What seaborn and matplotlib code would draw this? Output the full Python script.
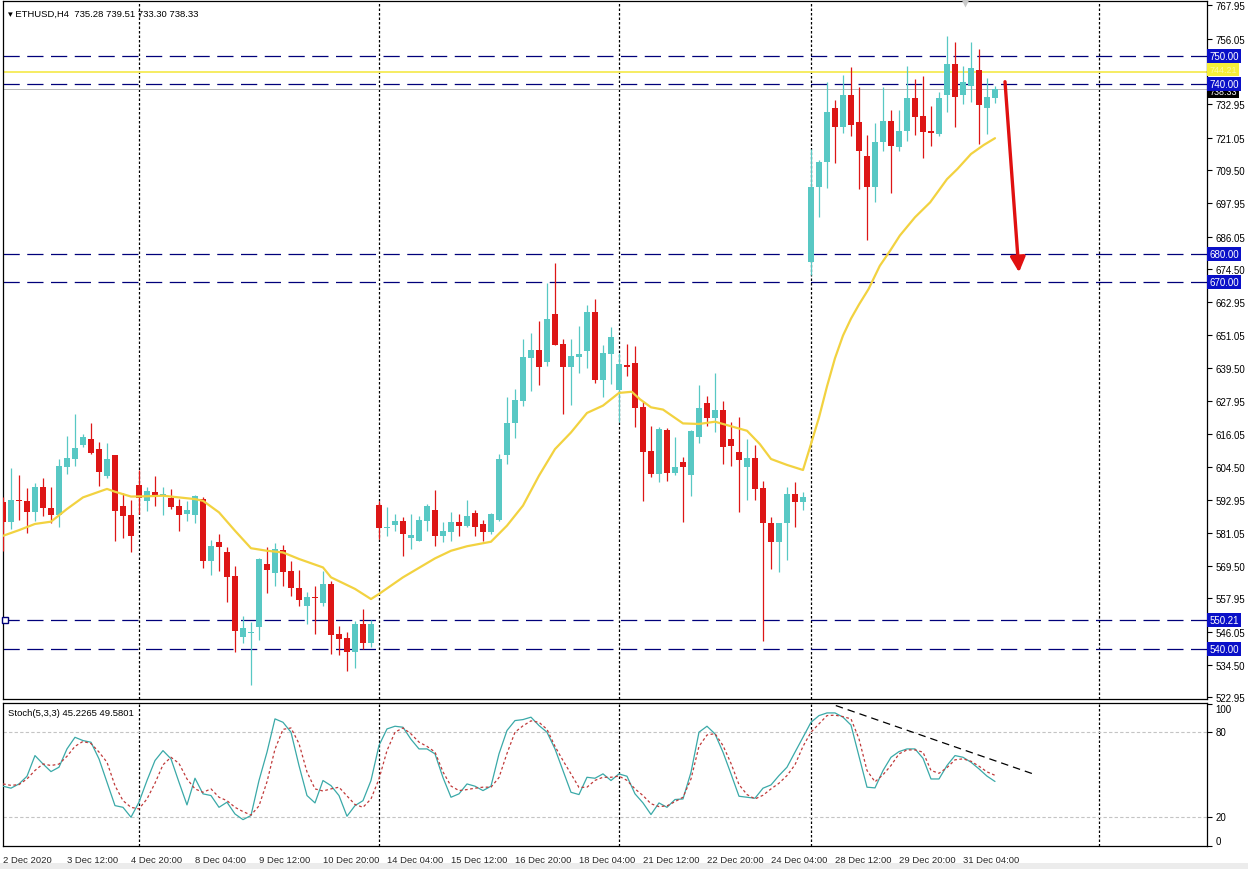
import numpy as np
import matplotlib
matplotlib.use("Agg")
import matplotlib.pyplot as plt
import matplotlib.transforms as mtransforms
from matplotlib.patches import Rectangle
import seaborn as sns

# ---------------- data ----------------
opens = [592.0, 585.1, 592.9, 592.4, 588.4, 597.3, 590.1, 587.5, 604.6, 607.3,
         612.3, 614.4, 610.8, 601.4, 608.7, 590.5, 587.5, 598.1, 592.3, 595.5,
         594.6, 593.5, 590.5, 587.9, 587.6, 593.1, 571.3, 577.8, 574.2, 565.7,
         544.4, 545.6, 547.9, 570.1, 566.8, 575.2, 567.5, 561.6, 555.1, 558.4,
         556.3, 563.0, 545.3, 543.8, 538.8, 548.9, 542.0, 591.0, 582.9, 583.9,
         585.2, 579.4, 578.4, 585.5, 589.2, 580.1, 581.6, 584.9, 583.7, 588.2,
         584.2, 581.6, 585.8, 608.8, 619.9, 627.9, 643.1, 646.0, 641.8, 658.6,
         648.0, 640.0, 643.5, 645.7, 659.5, 635.4, 644.5, 631.8, 640.6, 641.3,
         625.6, 610.0, 602.0, 617.7, 602.3, 606.1, 601.6, 615.2, 627.0, 621.8,
         624.7, 614.4, 609.7, 604.6, 607.6, 596.9, 584.6, 577.8, 584.5, 594.9,
         592.0, 677.2, 703.5, 712.4, 731.5, 724.7, 736.2, 726.5, 714.7, 703.5,
         719.4, 727.1, 717.7, 723.6, 735.0, 728.6, 723.4, 722.4, 736.3, 747.2,
         736.3, 739.3, 745.0, 731.6, 735.28]
highs = [593.7, 604.0, 601.6, 596.9, 598.8, 600.7, 597.3, 607.3, 615.6, 623.2,
         616.2, 620.0, 613.2, 613.0, 608.7, 595.1, 592.9, 603.4, 597.3, 601.2,
         597.3, 596.7, 593.1, 592.5, 594.6, 594.0, 578.7, 580.7, 576.0, 569.3,
         551.6, 549.5, 572.1, 576.0, 577.4, 576.8, 571.3, 568.0, 560.1, 562.4,
         567.8, 564.2, 548.0, 545.9, 550.1, 554.2, 550.4, 592.5, 590.2, 587.8,
         586.9, 587.8, 587.0, 591.4, 596.4, 584.9, 588.4, 587.8, 592.9, 589.2,
         585.7, 588.2, 609.1, 629.1, 632.1, 649.8, 651.9, 656.3, 669.6, 676.7,
         649.8, 649.8, 654.5, 661.8, 663.9, 647.7, 653.9, 645.0, 648.0, 647.4,
         628.0, 618.9, 618.5, 618.2, 615.0, 607.9, 617.7, 633.5, 629.5, 637.8,
         628.0, 620.3, 622.0, 614.4, 612.4, 599.6, 586.6, 584.6, 597.3, 599.0,
         595.5, 717.1, 713.2, 740.7, 734.4, 743.3, 746.2, 738.9, 722.0, 726.3,
         738.9, 730.9, 730.9, 746.3, 741.9, 742.8, 732.2, 737.1, 757.2, 754.8,
         746.3, 754.8, 752.5, 742.1, 739.51]
lows = [574.8, 582.5, 585.8, 581.0, 585.5, 587.0, 584.6, 583.1, 602.0, 604.9,
        611.4, 609.1, 597.6, 600.5, 578.4, 579.2, 574.5, 587.8, 589.0, 590.8,
        587.6, 589.6, 581.9, 585.5, 584.6, 568.6, 566.3, 567.8, 556.5, 538.8,
        542.0, 527.3, 543.2, 559.8, 562.2, 562.2, 558.9, 555.1, 548.9, 545.3,
        555.4, 538.2, 537.9, 532.3, 533.2, 540.0, 540.6, 579.0, 580.1, 581.9,
        573.1, 575.4, 578.4, 581.9, 576.4, 577.8, 578.4, 580.1, 583.1, 579.9,
        578.4, 580.7, 585.5, 605.5, 614.6, 625.9, 631.5, 633.5, 640.1, 647.8,
        623.2, 626.5, 637.7, 639.4, 634.1, 629.1, 633.9, 620.5, 636.8, 618.5,
        592.5, 600.8, 599.3, 599.6, 601.6, 585.1, 594.1, 612.9, 619.1, 616.7,
        605.5, 604.9, 588.6, 592.9, 592.9, 543.0, 568.4, 567.4, 571.6, 583.1,
        589.4, 672.5, 692.9, 703.1, 712.0, 722.6, 721.6, 702.9, 685.0, 698.4,
        716.5, 701.4, 716.5, 720.0, 722.0, 713.8, 718.0, 721.8, 730.3, 724.7,
        733.0, 733.8, 718.8, 722.4, 733.30]
closes = [584.9, 592.8, 592.3, 588.4, 597.3, 589.8, 587.5, 604.7, 607.5, 611.1,
          615.0, 609.3, 602.8, 607.3, 589.0, 587.2, 579.9, 593.5, 595.8, 594.3,
          594.8, 590.4, 587.6, 589.1, 594.3, 571.3, 576.6, 576.0, 565.4, 546.3,
          547.3, 545.9, 571.9, 568.1, 575.4, 567.4, 561.5, 557.5, 558.3, 558.1,
          562.9, 545.1, 543.6, 538.8, 548.9, 542.0, 548.9, 583.0, 583.3, 585.3,
          580.7, 580.4, 585.7, 590.8, 580.1, 581.8, 584.9, 583.7, 587.0, 583.1,
          581.6, 587.8, 607.3, 620.0, 628.2, 643.3, 646.0, 640.0, 656.9, 647.8,
          640.0, 643.6, 644.5, 659.5, 635.4, 644.7, 650.4, 640.9, 639.8, 625.4,
          609.9, 602.0, 617.9, 602.3, 604.4, 604.4, 617.3, 625.2, 621.8, 624.7,
          611.7, 612.0, 607.1, 607.6, 596.7, 584.5, 577.8, 584.6, 594.9, 592.0,
          593.7, 703.5, 712.5, 730.3, 724.7, 736.2, 725.7, 716.5, 703.5, 719.4,
          727.1, 718.0, 723.3, 735.0, 728.5, 723.2, 722.6, 735.0, 747.2, 735.6,
          740.7, 745.6, 732.6, 735.4, 738.33]

# moving average (bar index, price)
ma_index = [0, 2, 4, 6, 8, 10, 13, 14, 16, 18, 20, 24, 25, 27, 29, 31, 33, 35, 37, 40,
            41, 44, 46, 47, 50, 54, 56, 58, 61, 63, 65, 67, 69, 71, 73, 75, 77, 78.6,
            79.6, 81, 82.5, 85, 87, 89, 91, 93, 94.6, 96, 98, 100, 101, 102, 103, 104,
            105, 106, 107, 108.2, 109.6, 110.9, 112.1, 114, 115.9, 118, 119.3, 121,
            122.6, 124]
ma_value = [580.1, 582.1, 584.3, 585.1, 589.6, 593.7, 596.7, 595.7, 594.0, 594.1, 594.3,
            593.1, 592.5, 588.4, 581.9, 575.7, 574.8, 574.2, 571.9, 568.9, 565.4, 561.3,
            557.7, 559.5, 565.4, 572.1, 574.8, 576.4, 578.0, 583.7, 590.8, 601.4, 610.8,
            616.7, 623.6, 626.2, 630.7, 631.1, 628.5, 625.6, 624.8, 619.9, 619.7, 620.5,
            618.9, 617.3, 612.6, 607.3, 605.2, 603.4, 612.6, 622.0, 633.0, 643.0, 651.0,
            657.0, 662.0, 667.5, 675.7, 681.1, 686.4, 692.9, 698.2, 706.4, 710.0, 715.3,
            718.5, 720.9]

stoch_k = [41.9, 40.5, 43.5, 48.9, 63.5, 57.6, 52.2, 55.3, 68.2, 76.4,
           74.1, 72.9, 61.2, 44.7, 28.2, 27.0, 20.0, 30.6, 45.9, 60.0,
           67.0, 61.2, 44.7, 28.7, 47.5, 36.5, 35.3, 27.0, 30.6, 22.3,
           18.3, 21.2, 45.9, 65.9, 89.4, 87.0, 80.0, 56.5, 35.3, 30.1,
           45.9, 42.3, 35.3, 20.7, 28.2, 31.7, 45.9, 70.6, 82.3, 84.2,
           83.5, 75.0, 68.2, 68.2, 64.7, 48.0, 34.1, 36.5, 43.5, 41.9,
           38.8, 41.9, 64.7, 81.2, 88.2, 88.9, 90.6, 84.7, 80.0, 68.2,
           52.9, 37.6, 36.0, 48.2, 47.5, 50.6, 45.9, 50.6, 48.9, 36.5,
           30.1, 21.9, 30.1, 27.0, 32.5, 32.9, 51.7, 80.0, 84.2, 78.8,
           65.9, 50.6, 34.8, 34.1, 33.4, 40.5, 42.8, 49.4, 55.3, 65.9,
           76.4, 87.0, 91.7, 93.6, 93.6, 90.6, 85.0, 63.0, 41.2, 40.7,
           52.9, 62.3, 66.3, 68.2, 68.2, 61.6, 47.0, 47.0, 56.5, 63.5,
           62.3, 58.8, 54.1, 49.0, 45.2265]
stoch_d = [43.5, 42.5, 43.0, 47.0, 53.0, 57.6, 56.5, 57.5, 63.0, 70.0,
           73.5, 72.0, 66.0, 58.8, 42.3, 31.7, 27.0, 25.9, 32.9, 44.0,
           57.0, 62.3, 58.0, 47.0, 40.0, 37.6, 40.0, 34.1, 31.7, 27.0,
           24.0, 21.5, 28.0, 45.0, 68.0, 82.0, 83.0, 72.0, 52.0, 40.0,
           38.5, 40.0, 41.2, 35.0, 29.0, 27.0, 32.9, 47.0, 67.0, 80.0,
           83.0, 78.8, 73.0, 70.0, 66.0, 52.0, 42.0, 38.8, 39.5, 40.5,
           41.2, 41.2, 48.0, 65.0, 80.0, 84.5, 88.0, 87.0, 82.0, 70.0,
           60.0, 50.6, 41.0, 41.2, 46.0, 48.2, 48.2, 49.0, 46.0, 40.0,
           35.3, 29.5, 27.5, 28.0, 31.0, 34.1, 47.0, 70.0, 78.0, 79.0,
           70.6, 58.0, 43.0, 36.0, 32.9, 35.5, 40.0, 44.0, 49.4, 57.0,
           70.0, 80.0, 85.9, 91.7, 92.0, 91.0, 89.4, 75.3, 53.0, 45.0,
           50.0, 56.5, 64.7, 67.5, 67.5, 65.9, 53.0, 51.0, 55.0, 60.5,
           61.2, 59.5, 56.0, 52.0, 49.5801]

x_tick_index = [0, 8, 16, 24, 32, 40, 48, 56, 64, 72, 80, 88, 96, 104, 112, 120]
x_tick_labels = ["2 Dec 2020", "3 Dec 12:00", "4 Dec 20:00", "8 Dec 04:00", "9 Dec 12:00",
                 "10 Dec 20:00", "14 Dec 04:00", "15 Dec 12:00", "16 Dec 20:00",
                 "18 Dec 04:00", "21 Dec 12:00", "22 Dec 20:00", "24 Dec 04:00",
                 "28 Dec 12:00", "29 Dec 20:00", "31 Dec 04:00"]
separators = [17, 47, 77, 101, 137]
price_ticks = [767.95, 756.05, 744.50, 732.95, 721.05, 709.50, 697.95, 686.05, 674.50,
               662.95, 651.05, 639.50, 627.95, 616.05, 604.50, 592.95, 581.05, 569.50,
               557.95, 546.05, 534.50, 522.95]
hidden_tick = 744.50  # covered by the yellow price box in the reference
levels = [750.00, 740.00, 680.00, 670.00, 550.21, 540.00]
yellow_level = 744.21
bid_price = 738.33
arrow_start = (125.25, 740.9)
arrow_end = (127.0, 673.4)
stoch_trend_x = [104.1, 129.1]
stoch_trend_y = [98.8, 49.9]

# ---------------- figure ----------------
sns.set_style("white")
FAM = ['Liberation Sans', 'DejaVu Sans']
plt.rcParams['font.family'] = FAM
FS = 7.0

W, H = 1248, 870
fig = plt.figure(figsize=(W / 100, H / 100), dpi=100)
fig.patch.set_facecolor("white")


def rect(x0, y0, x1, y1):
    return [x0 / W, 1 - y1 / H, (x1 - x0) / W, (y1 - y0) / H]


ax = fig.add_axes(rect(2.5, 2, 1207, 700))
ax2 = fig.add_axes(rect(2.5, 704, 1207, 847))

UP = "#58c8c4"
DOWN = "#dd1616"
NAVY = "#00007a"

O = np.array(opens); Hh = np.array(highs); L = np.array(lows); C = np.array(closes)
idx = np.arange(len(O))
cols = [UP if c >= o else DOWN for o, c in zip(O, C)]
bottom = np.minimum(O, C)
height = np.maximum(np.abs(C - O), 0.45)

xmin, xmax = -0.06, 150.5
for a in (ax, ax2):
    a.set_xlim(xmin, xmax)
    for s in a.spines.values():
        s.set_color("black")
        s.set_linewidth(0.9)
    for sx in separators:
        a.axvline(sx, color="black", lw=0.9, dashes=(2.0, 1.6), zorder=1)

ax.set_ylim(522.31, 769.48)

# horizontal lines
for lv in levels:
    ax.axhline(lv, color=NAVY, lw=0.9, dashes=(13, 6), zorder=1.5)
ax.axhline(yellow_level, color="#f6ea55", lw=1.3, zorder=1.5)
ax.axhline(bid_price, color="#b8b8b8", lw=0.7, zorder=1.4)
ax.plot([0.25], [550.21], marker="s", ms=4.2, mfc="white", mec=NAVY, mew=1.0,
        clip_on=False, zorder=5)

# candles
ax.vlines(idx, L, Hh, colors=cols, lw=0.9, zorder=3)
ax.bar(idx, height, bottom=bottom, width=0.68, color=cols, lw=0, zorder=3)

# moving average
sns.lineplot(x=ma_index, y=ma_value, ax=ax, color="#f2d240", lw=1.6, zorder=4)

# red arrow
ax.annotate("", xy=arrow_end, xytext=arrow_start,
            arrowprops=dict(arrowstyle="-|>,head_length=0.9,head_width=0.45",
                            color="#e01010", lw=2.4, shrinkA=0, shrinkB=0),
            zorder=6)

# shift marker at top
ax.plot([120.25], [768.6], marker="v", ms=6, color="#c8c8c8", mec="none",
        clip_on=False, zorder=6)

# right price axis
ax.yaxis.tick_right()
ax.set_yticks(price_ticks)
ax.set_yticklabels(["" if t == hidden_tick else f"{t:.2f}" for t in price_ticks])
ax.tick_params(axis="y", direction="out", length=3.5, width=0.8, pad=2.5,
               labelsize=FS, colors="black")
ax.set_xticks([])
ax.set_xlabel(""); ax.set_ylabel("")

trans = mtransforms.blended_transform_factory(ax.transAxes, ax.transData)
box_x = 1.0017


def price_box(y, text, fc, tc, z, fs=FS):
    ax.text(box_x, y, text, transform=trans, ha="left", va="center", fontsize=fs,
            color=tc, clip_on=False, zorder=z,
            bbox=dict(boxstyle="square,pad=0.22", fc=fc, ec="none"))


price_box(bid_price - 0.9, f"{bid_price:.2f}", "black", "white", 10, FS - 0.6)
price_box(yellow_level + 1.0, f"{yellow_level:.2f}", "#f6ee3a", "#fbf7a8", 11, FS - 0.6)
for lv in levels:
    price_box(lv, f"{lv:.2f}", "#0a10c8", "white", 12)

ax.text(0.0045, 0.9825, "\u25BE ETHUSD,H4  735.28 739.51 733.30 738.33", transform=ax.transAxes,
        ha="left", va="center", fontsize=FS - 0.2, color="black", zorder=10)

# stochastic panel
ax2.set_ylim(-0.3, 100.6)
for lv in (80, 20):
    ax2.axhline(lv, color="#c4c4c4", lw=0.8, dashes=(3, 2), zorder=1)
sns.lineplot(x=idx, y=stoch_k, ax=ax2, color="#3aa9a8", lw=0.9, zorder=3)
sns.lineplot(x=idx, y=stoch_d, ax=ax2, color="#c03a3a", lw=0.9,
             linestyle=(0, (2.2, 2.0)), zorder=3)
ax2.plot(stoch_trend_x, stoch_trend_y, color="black", lw=0.9, dashes=(6, 4), zorder=4)
ax2.text(0.0045, 0.935, "Stoch(5,3,3) 45.2265 49.5801", transform=ax2.transAxes,
         ha="left", va="center", fontsize=FS - 0.2, color="black")

ax2.yaxis.tick_right()
ax2.set_yticks([100, 80, 20, 0])
ax2.set_yticklabels(["100", "80", "20", "0"])
ax2.tick_params(axis="y", direction="out", length=3.5, width=0.8, pad=2.5,
                labelsize=FS, colors="black")
for lab, va in zip(ax2.get_yticklabels(), ["top", "center", "center", "bottom"]):
    lab.set_va(va)
ax2.set_xticks(x_tick_index)
ax2.set_xticklabels(x_tick_labels)
ax2.tick_params(axis="x", direction="out", length=3.5, width=0.8, pad=3)
for lab in ax2.get_xticklabels():
    lab.set_ha("left")
    lab.set_fontsize(FS - 0.2)
    lab.set_family(['Liberation Sans Narrow', 'Liberation Sans', 'DejaVu Sans'])
ax2.set_xlabel(""); ax2.set_ylabel("")

# bottom grey strip
fig.patches.append(Rectangle((0, 0), 1, 6 / H, transform=fig.transFigure,
                             fc="#ececec", ec="none"))

fig.savefig("out.png", dpi=100)
